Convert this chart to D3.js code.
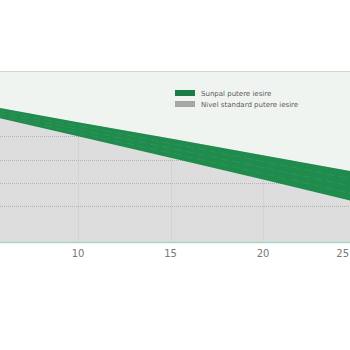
<!DOCTYPE html>
<html>
<head>
<meta charset="utf-8">
<script src="https://cdn.jsdelivr.net/npm/d3@7/dist/d3.min.js"></script>
<style>
	body { margin: 0; background: #fff; }
	svg { display: block; font-family: "DejaVu Sans", sans-serif; }
</style>
</head>
<body>
<div id="main"></div>
<script>
// years on the x axis
const years = [5, 10, 15, 20, 25];
// output power, % (upper edge = Sunpal, lower edge = standard level)
const sunpal = [101.6, 98.0, 94.5, 90.9, 87.3];
const standard = [99.6, 95.0, 90.4, 85.7, 80.9];
const xTicks = [10, 15, 20, 25];
const yGrid = [80, 85, 90, 95, 100];
const legendNames = ["Sunpal putere iesire", "Nivel standard putere iesire"];
const legendColors = ["#1a7d45", "#a6a6a6"];

const width = 350, height = 350;
const plotTop = 71, plotBottom = 242;

let rows = years.map(function (y, i) {
	return { year: y, up: sunpal[i], low: standard[i] };
});

let svg = d3.select("#main").append("svg")
	.attr("width", width).attr("height", height);

let x = d3.scaleLinear().domain([5, 25]).range([-14.5, 355.5]);
let y = d3.scaleLinear().domain([72.3, 109]).range([plotBottom, plotTop]);

// grey base (standard level region)
svg.append("rect")
	.attr("x", 0).attr("y", plotTop)
	.attr("width", width).attr("height", plotBottom - plotTop)
	.attr("fill", "#dcdddc");

// grid, later covered by the light area and the band
let grid = svg.append("g").attr("class", "grid");
grid.selectAll("line.h").data(yGrid).enter().append("line")
	.attr("class", "h")
	.attr("x1", 0).attr("x2", width)
	.attr("y1", function (d) { return Math.round(y(d)) + 0.5; })
	.attr("y2", function (d) { return Math.round(y(d)) + 0.5; })
	.attr("stroke", "#b3b3b3").attr("stroke-dasharray", "1,1");
grid.selectAll("line.v").data(xTicks).enter().append("line")
	.attr("class", "v")
	.attr("y1", plotTop).attr("y2", plotBottom)
	.attr("x1", function (d) { return Math.round(x(d)) + 0.5; })
	.attr("x2", function (d) { return Math.round(x(d)) + 0.5; })
	.attr("stroke", "#c8c8c8").attr("stroke-dasharray", "1,1");

// light area above the band
let topArea = d3.area()
	.x(function (d) { return x(d.year); })
	.y0(plotTop)
	.y1(function (d) { return y(d.up); });
svg.append("path").datum(rows)
	.attr("d", topArea)
	.attr("fill", "#f0f4f1");

// green band between the two levels
let band = d3.area()
	.x(function (d) { return x(d.year); })
	.y0(function (d) { return y(d.low); })
	.y1(function (d) { return y(d.up); });
svg.append("path").datum(rows)
	.attr("d", band)
	.attr("fill", "#1f8b4c");

// faint texture inside the band
let fracs = [0.25, 0.5, 0.75];
fracs.forEach(function (t) {
	let ln = d3.line()
		.x(function (d) { return x(d.year); })
		.y(function (d) { return y(d.low) + t * (y(d.up) - y(d.low)); });
	svg.append("path").datum(rows)
		.attr("d", ln)
		.attr("fill", "none")
		.attr("stroke", "#ffffff").attr("stroke-opacity", 0.07)
		.attr("stroke-dasharray", "8,4");
});

// plot borders
svg.append("line")
	.attr("x1", 0).attr("x2", width)
	.attr("y1", plotTop + 0.5).attr("y2", plotTop + 0.5)
	.attr("stroke", "#c9d9d0");
svg.append("line")
	.attr("x1", 0).attr("x2", width)
	.attr("y1", plotBottom + 0.5).attr("y2", plotBottom + 0.5)
	.attr("stroke", "#a9d8c2").attr("stroke-width", 1.5);

// x tick labels, justified so they stay inside the chart
let labels = svg.append("g").selectAll("text").data(xTicks).enter().append("text")
	.attr("x", function (d) { return x(d); })
	.attr("y", 257)
	.attr("text-anchor", "middle")
	.attr("font-size", "10px")
	.attr("fill", "#777")
	.text(function (d) { return d; });
labels.each(function () {
	let bb = this.getBBox();
	if (bb.x + bb.width > width - 1) {
		d3.select(this).attr("x", +d3.select(this).attr("x") - (bb.x + bb.width - width + 1));
	}
});

// legend
let legend = svg.append("g").attr("transform", "translate(175,90)");
let item = legend.selectAll("g").data(legendNames).enter().append("g")
	.attr("transform", function (d, i) { return "translate(0," + (i * 11) + ")"; });
item.append("rect")
	.attr("width", 20).attr("height", 6)
	.attr("fill", function (d, i) { return legendColors[i]; });
item.append("text")
	.attr("x", 26).attr("y", 6)
	.attr("font-size", "7px")
	.attr("fill", "#5a5a5a")
	.text(function (d) { return d; });
</script>
</body>
</html>
